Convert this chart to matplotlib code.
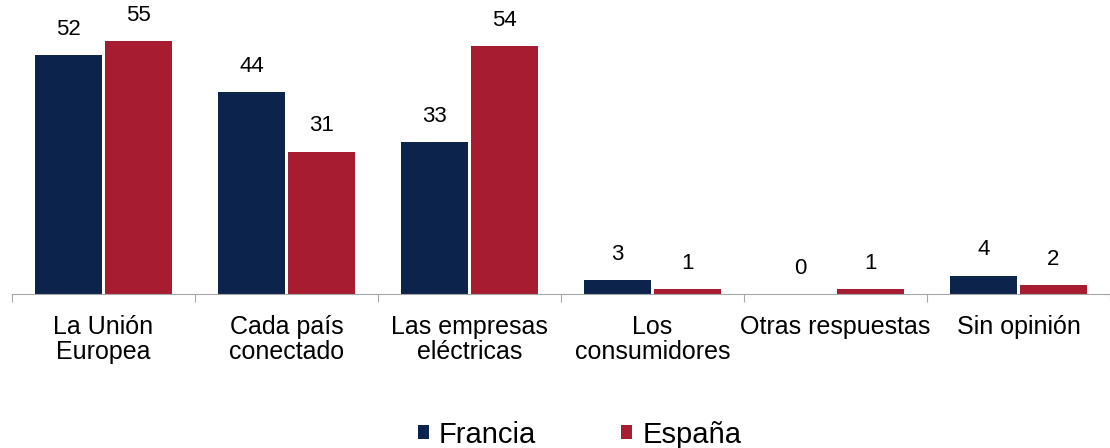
import matplotlib
matplotlib.use('Agg')
import matplotlib.pyplot as plt
import numpy as np

plt.rcParams['font.family'] = ['Liberation Sans', 'DejaVu Sans']

# datos
categorias = ['La Unión\nEuropea', 'Cada país\nconectado', 'Las empresas\neléctricas',
              'Los\nconsumidores', 'Otras respuestas', 'Sin opinión']
francia = [52, 44, 33, 3, 0, 4]
espana = [55, 31, 54, 1, 1, 2]

color_fr = '#0C234C'
color_es = '#A71C30'

fig = plt.figure(figsize=(11.1, 4.48), dpi=100)
ax = fig.add_axes([12 / 1110, 1 - 294 / 448, 1 - 12 / 1110, 294 / 448])

x = np.arange(len(categorias))
ancho = 0.365
desp = 0.19

b1 = ax.bar(x - desp, francia, ancho, color=color_fr, label='Francia')
b2 = ax.bar(x + desp, espana, ancho, color=color_es, label='España')

for barras, vals in [(b1, francia), (b2, espana)]:
    for b, v in zip(barras, vals):
        ax.annotate(str(v), (b.get_x() + b.get_width() / 2, v), xytext=(0, 11),
                    textcoords='offset points', ha='center', va='bottom', fontsize=16)

ax.set_xlim(-0.5, len(categorias) - 0.5)
ax.set_ylim(0, 64)

# ejes
for s in ['top', 'right', 'left']:
    ax.spines[s].set_visible(False)
ax.spines['bottom'].set_color('#A6A6A6')
ax.set_yticks([])
ax.set_xticks(np.arange(len(categorias) + 1) - 0.5)
ax.set_xticklabels([])
ax.tick_params(axis='x', direction='out', length=6, color='#A6A6A6')
ax.set_xticks(x, minor=True)
ax.set_xticklabels(categorias, minor=True, fontsize=18, linespacing=1.05)
ax.tick_params(axis='x', which='minor', length=0, pad=15)

fig.legend(handles=[b1, b2], loc='center', bbox_to_anchor=(0.522, 0.03), ncol=2,
           frameon=False, fontsize=21, handlelength=0.38, handleheight=0.38,
           handletextpad=0.35, columnspacing=2.9)

fig.savefig('out.png', dpi=100)
